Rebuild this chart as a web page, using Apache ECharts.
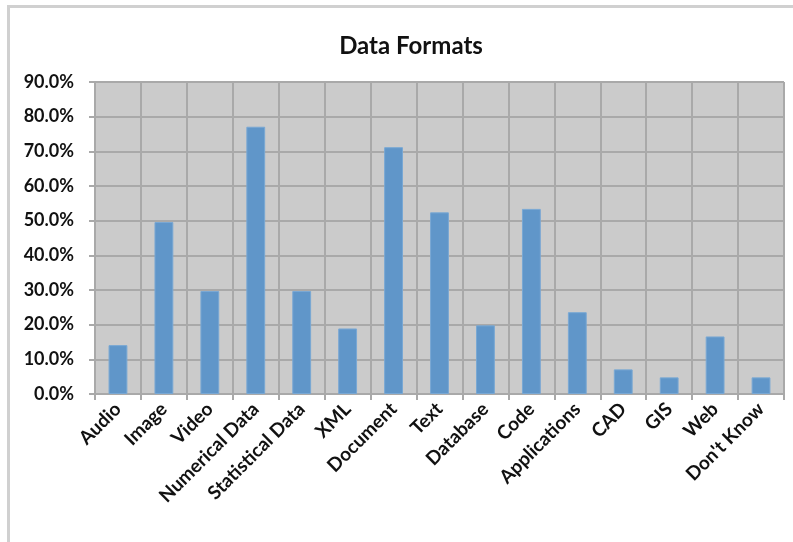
<!DOCTYPE html>
<html>
<head>
<meta charset="utf-8">
<title>Data Formats</title>
<script src="https://cdn.jsdelivr.net/npm/echarts@6/dist/echarts.min.js"></script>
<style>
  html, body { margin: 0; padding: 0; background: #ffffff; }
  #chart { width: 793px; height: 542px; }
</style>
</head>
<body>
<div id="chart"></div>
<script>
// Share of respondents working with each data format
const categories = ['Audio', 'Image', 'Video', 'Numerical Data', 'Statistical Data', 'XML',
  'Document', 'Text', 'Database', 'Code', 'Applications', 'CAD', 'GIS', 'Web', "Don't Know"];
const shares = [14.1, 49.6, 29.7, 77.1, 29.7, 18.9, 71.2, 52.4, 19.8, 53.4, 23.6, 7.1, 4.8, 16.6, 4.8];
const yTicks = { min: 0, max: 90, step: 10 };

const font = 'Lato, "Open Sans", sans-serif';
const chart = echarts.init(document.getElementById('chart'), null, { renderer: 'canvas' });

chart.setOption({
  backgroundColor: '#ffffff',
  animation: false,
  title: {
    text: 'Data Formats',
    left: 406,
    top: 29,
    textAlign: 'center',
    textStyle: { fontFamily: font, fontWeight: 'bold', fontSize: 24, color: '#111111' }
  },
  grid: { left: 95, right: 9, top: 82, bottom: 148, containLabel: false,
    show: true, backgroundColor: '#cbcbcb', borderWidth: 0 },
  xAxis: {
    type: 'category',
    data: categories,
    axisLine: { show: true, lineStyle: { color: '#a9a9a9', width: 2 } },
    axisTick: { show: true, length: 6, lineStyle: { color: '#a9a9a9', width: 2 } },
    splitLine: { show: true, lineStyle: { color: '#a9a9a9', width: 2 } },
    axisLabel: {
      rotate: 45, interval: 0, margin: 12,
      fontFamily: font, fontWeight: 'bold', fontSize: 19, color: '#111111'
    }
  },
  yAxis: {
    type: 'value',
    min: yTicks.min, max: yTicks.max, interval: yTicks.step,
    axisLine: { show: true, lineStyle: { color: '#a9a9a9', width: 2 } },
    axisTick: { show: true, length: 6, lineStyle: { color: '#a9a9a9', width: 2 } },
    splitLine: { show: true, lineStyle: { color: '#a9a9a9', width: 2 } },
    axisLabel: {
      margin: 21,
      formatter: v => v.toFixed(1) + '%',
      fontFamily: font, fontWeight: 'bold', fontSize: 18, color: '#111111'
    }
  },
  series: [{
    type: 'bar',
    data: shares,
    barWidth: '41%',
    itemStyle: { color: '#6096c9', borderColor: '#79a8d4', borderWidth: 1 }
  }],
  graphic: [
    { type: 'line', shape: { x1: 8, y1: 6.5, x2: 793, y2: 6.5 },
      style: { stroke: '#d0d0d0', lineWidth: 3 }, silent: true },
    { type: 'line', shape: { x1: 8.5, y1: 5, x2: 8.5, y2: 542 },
      style: { stroke: '#d0d0d0', lineWidth: 3 }, silent: true }
  ]
});
</script>
</body>
</html>
